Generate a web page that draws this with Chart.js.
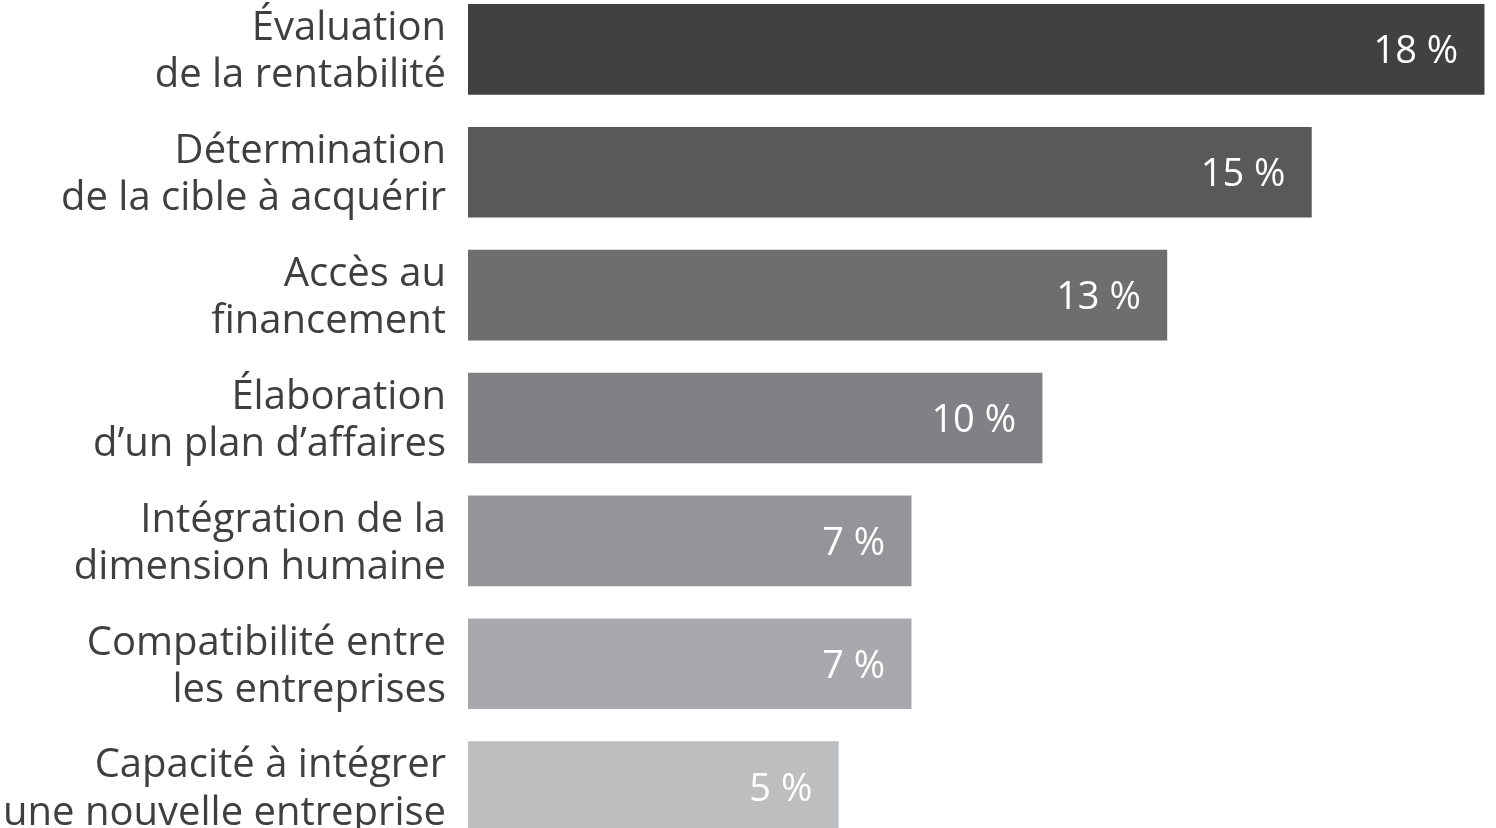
<!DOCTYPE html>
<html lang="fr">
<head>
<meta charset="utf-8">
<script src="https://cdn.jsdelivr.net/npm/chart.js@4"></script>
<style>
  html, body { margin: 0; padding: 0; background: #fff; overflow: hidden; }
  body { width: 1496px; height: 828px; position: relative; }
  #wrap { position: absolute; left: 0; top: -12px; width: 1496px; height: 860px; }
</style>
</head>
<body>
<div id="wrap"><canvas id="chart"></canvas></div>
<script>
// Categories (two-line labels as in the picture)
const categories = [
    ['Évaluation', 'de la rentabilité'],
    ['Détermination', 'de la cible à acquérir'],
    ['Accès au', 'financement'],
    ['Élaboration', 'd\u2019un plan d\u2019affaires'],
    ['Intégration de la', 'dimension humaine'],
    ['Compatibilité entre', 'les entreprises'],
    ['Capacité à intégrer', 'une nouvelle entreprise']
];

// Printed values
const valueLabels = ['18 %', '15 %', '13 %', '10 %', '7 %', '7 %', '5 %'];

// Bar lengths as drawn in the picture (same unit as the printed percentages)
const barLengths = [18, 14.94, 12.38, 10.17, 7.85, 7.85, 6.56];

const barColors = ['#414141', '#58595b', '#6d6e70', '#808184', '#939598', '#a7a9ac', '#bcbec0'];

const FONT = '"Open Sans", Lato, sans-serif';

// --- value labels inside the bars ---
const insideLabels = {
    id: 'insideLabels',
    afterDatasetsDraw(chart) {
        const ctx = chart.ctx;
        const meta = chart.getDatasetMeta(0);
        ctx.save();
        ctx.font = '500 38px ' + FONT;
        ctx.fillStyle = '#ffffff';
        ctx.textAlign = 'right';
        ctx.textBaseline = 'alphabetic';
        meta.data.forEach((bar, i) => {
            ctx.fillText(valueLabels[i], bar.x - 26, bar.y + 14);
        });
        ctx.restore();
    }
};

new Chart(document.getElementById('chart'), {
    type: 'bar',
    data: {
        labels: categories,
        datasets: [{
            data: barLengths,
            backgroundColor: barColors,
            borderWidth: 0,
            barThickness: 90
        }]
    },
    options: {
        indexAxis: 'y',
        responsive: true,
        maintainAspectRatio: false,
        animation: false,
        layout: { padding: 0, autoPadding: false },
        plugins: {
            legend: { display: false },
            tooltip: { enabled: false }
        },
        scales: {
            x: {
                display: false,
                min: 0,
                max: 18.21
            },
            y: {
                grid: { display: false, drawTicks: false },
                border: { display: false },
                ticks: {
                    color: '#3f3f40',
                    font: { family: FONT, size: 40, weight: '500', lineHeight: 1.18 },
                    padding: 22,
                    labelOffset: 3
                },
                afterFit(scale) {
                    // fixed axis width so the bars start where they do in the picture
                    scale.width = 468;
                    scale.paddingTop = 0;
                    scale.paddingBottom = 0;
                }
            }
        }
    },
    plugins: [insideLabels]
});
</script>
</body>
</html>
